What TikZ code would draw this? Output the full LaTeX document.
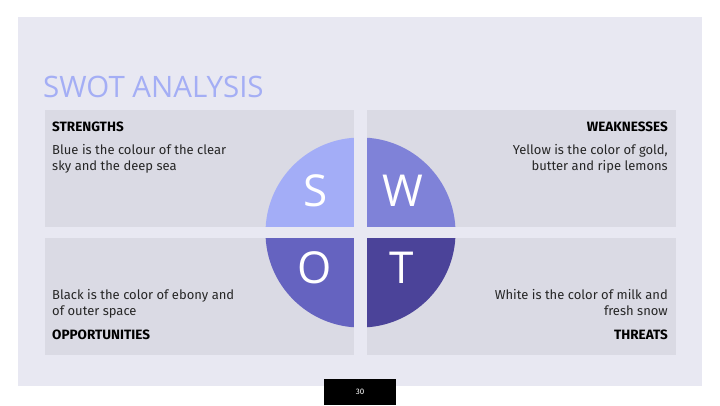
\documentclass[tikz,border=0pt]{standalone}
\usepackage{fontspec}
\setmainfont{Fira Sans}
\newfontfamily\titlefont{Open Sans}
\definecolor{panelbg}{HTML}{E8E8F2}
\definecolor{boxbg}{HTML}{DADAE4}
\definecolor{titleblue}{HTML}{A4AEF5}
\definecolor{sfill}{HTML}{A3ADF7}
\definecolor{wfill}{HTML}{7F82D8}
\definecolor{ofill}{HTML}{6563C0}
\definecolor{tfill}{HTML}{4B4399}
\begin{document}
\begin{tikzpicture}[
    x=1pt, y=-1pt,
    quadbox/.style={fill=boxbg, draw=none},
    head/.style={inner sep=0pt, font=\fontsize{13.5}{15}\selectfont\bfseries},
    body/.style={inner sep=0pt, font=\fontsize{13}{16}\selectfont, text=black!85},
    letter/.style={inner sep=0pt, text=white, font=\titlefont\fontsize{44}{44}\selectfont}
]
\useasboundingbox (0,0) rectangle (720,405);
\fill[white] (0,0) rectangle (720,405);
\fill[panelbg] (18,17) rectangle (702,386);

\node[anchor=base west, inner sep=0pt, text=titleblue, font=\titlefont\fontsize{29.5}{29.5}\selectfont] (title) at (43,97) {SWOT ANALYSIS};

% the four boxes
\fill[quadbox] (45,110) rectangle (354.3,226.7);
\fill[quadbox] (366.7,110) rectangle (676,226.7);
\fill[quadbox] (45,238.3) rectangle (354.3,355);
\fill[quadbox] (366.7,238.3) rectangle (676,355);

% circle
\begin{scope}
    \clip (360.5,232.5) circle (95);
    \fill[sfill] (250,120) rectangle (354.3,226.7);
    \fill[wfill] (366.7,120) rectangle (470,226.7);
    \fill[ofill] (250,238.3) rectangle (354.3,345);
    \fill[tfill] (366.7,238.3) rectangle (470,345);
\end{scope}
\node[letter] (s) at (316,191) {S};
\node[letter] (w) at (403,191) {W};
\node[letter] (o) at (315,268) {O};
\node[letter] (t) at (402,268) {T};

% texts (base of a two-line node = its last line)
\node[head, anchor=base west] (strengths) at (52,131) {STRENGTHS};
\node[body, anchor=base west, align=left] (stext) at (52,170.5) {Blue is the colour of the clear\\sky and the deep sea};
\node[head, anchor=base east] (weaknesses) at (668,131) {WEAKNESSES};
\node[body, anchor=base east, align=right] (wtext) at (668,170.5) {Yellow is the color of gold,\\butter and ripe lemons};
\node[body, anchor=base west, align=left] (otext) at (52,315.5) {Black is the color of ebony and\\of outer space};
\node[head, anchor=base west] (opportunities) at (52,339) {OPPORTUNITIES};
\node[body, anchor=base east, align=right] (ttext) at (668,315.5) {White is the color of milk and\\fresh snow};
\node[head, anchor=base east] (threats) at (668,339) {THREATS};

% page number
\fill[black] (324,379) rectangle (396,405);
\node[inner sep=0pt, text=white, font=\fontsize{8}{8}\selectfont] (pagenum) at (360,392) {30};
\end{tikzpicture}
\end{document}
